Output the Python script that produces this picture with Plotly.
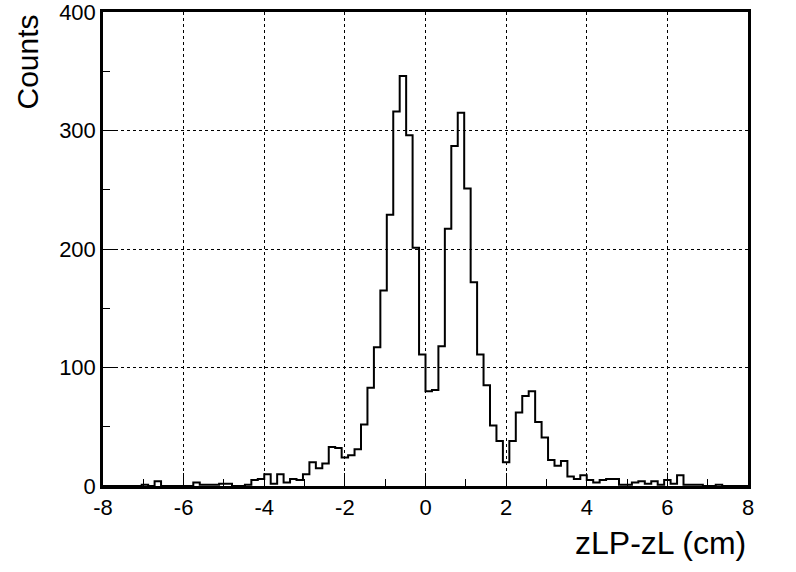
import plotly.graph_objects as go

# Histogram definition: 100 bins from -8 to 8 (cm)
x_min = -8.0
x_max = 8.0
n_bins = 100

counts = [
    0, 0, 0, 0, 0, 0, 1, 0, 4, 0,
    0, 0, 0, 0, 3, 1, 1, 1, 2, 2,
    0, 0, 1, 5, 6, 10, 2, 10, 3, 6,
    5, 10, 20, 15, 19, 33, 32, 24, 26, 31,
    52, 83, 117, 165, 229, 316, 346, 296, 201, 111,
    80, 81, 118, 217, 287, 315, 251, 172, 111, 85,
    51, 38, 20, 38, 62, 76, 80, 54, 41, 22,
    17, 21, 8, 6, 9, 5, 3, 5, 6, 6,
    1, 1, 3, 4, 2, 4, 1, 5, 2, 9,
    1, 1, 1, 0, 0, 1, 0, 0, 0, 0,
]

x_tick_vals = [-8, -6, -4, -2, 0, 2, 4, 6, 8]
y_tick_vals = [0, 100, 200, 300, 400]

x_title = "zLP-zL (cm)"
y_title = "Counts"

bin_width = (x_max - x_min) / n_bins
edges = [x_min + i * bin_width for i in range(n_bins + 1)]
step_y = counts + [counts[-1]]

FONT = "Liberation Sans, Arial, Helvetica, sans-serif"

fig = go.Figure()
fig.add_trace(go.Scatter(
    x=edges, y=step_y, mode="lines", line_shape="hv",
    line=dict(color="black", width=2), hoverinfo="skip", showlegend=False,
))

fig.update_layout(
    width=796, height=572,
    margin=dict(l=103, r=48, t=12, b=86, autoexpand=False),
    paper_bgcolor="white", plot_bgcolor="white",
    font=dict(family=FONT, color="black", size=22),
    showlegend=False,
)

fig.update_xaxes(
    range=[x_min, x_max], tickvals=x_tick_vals,
    ticktext=[str(v) for v in x_tick_vals],
    ticks="inside", ticklen=13, tickwidth=1, tickcolor="black",
    minor=dict(dtick=1, tick0=0, ticks="inside", ticklen=7, tickcolor="black", showgrid=False),
    showgrid=True, gridcolor="black", griddash="dot", gridwidth=1,
    showline=True, linecolor="black", linewidth=2.5, mirror=True,
    zeroline=False, automargin=False, ticklabeloverflow="allow",
    tickfont=dict(size=22, family=FONT),
)
fig.update_yaxes(
    range=[0, 400], tickvals=y_tick_vals,
    ticktext=[str(v) for v in y_tick_vals],
    ticks="inside", ticklen=13, tickwidth=1, tickcolor="black",
    minor=dict(dtick=50, tick0=0, ticks="inside", ticklen=7, tickcolor="black", showgrid=False),
    showgrid=True, gridcolor="black", griddash="dot", gridwidth=1,
    showline=True, linecolor="black", linewidth=2.5, mirror=True,
    zeroline=False, automargin=False, ticklabeloverflow="allow",
    tickfont=dict(size=22, family=FONT),
)

fig.add_annotation(
    text=y_title, xref="paper", yref="paper", x=-0.1163, y=1.0,
    xanchor="center", yanchor="top", textangle=-90, showarrow=False,
    font=dict(size=30, family=FONT, color="black"),
)
fig.add_annotation(
    text=x_title, xref="paper", yref="paper", x=1.0, y=-0.1203,
    xanchor="right", yanchor="middle", showarrow=False,
    font=dict(size=32, family=FONT, color="black"),
)

fig.write_html(
    "out.html",
    config={"displayModeBar": False},
    post_script="document.body.style.margin='0';",
)
